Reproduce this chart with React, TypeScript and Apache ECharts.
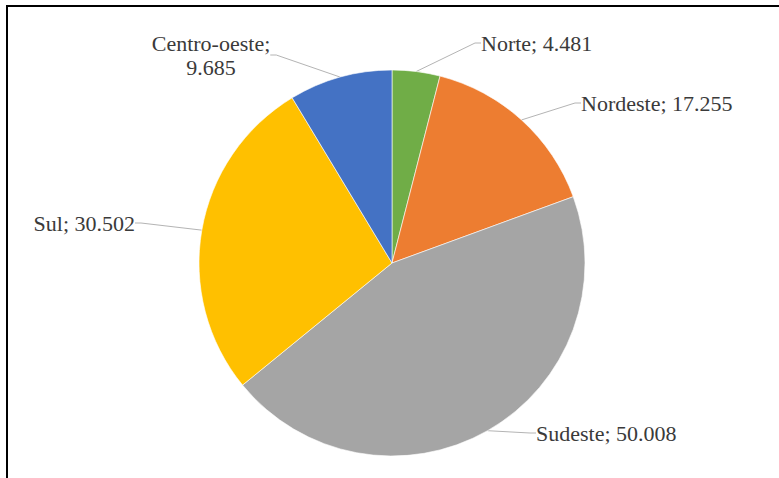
import React, { useEffect, useRef } from "react";
import * as echarts from "echarts";

const regions = ["Norte", "Nordeste", "Sudeste", "Sul", "Centro-oeste"];
const values = [4481, 17255, 50008, 30502, 9685];
const colors = ["#70AD47", "#ED7D31", "#A5A5A5", "#FFC000", "#4472C4"];

// label placement (style only)
const labelPos: { x: number; y: number; align: string }[] = [
  { x: 481, y: 43, align: "left" },
  { x: 581, y: 103, align: "left" },
  { x: 536, y: 433, align: "left" },
  { x: 135, y: 223, align: "right" },
  { x: 211, y: 55, align: "center" },
];

function fmt(v: number): string {
  return String(v).replace(/\B(?=(\d{3})+(?!\d))/g, ".");
}

export default function App() {
  const ref = useRef<HTMLDivElement>(null);
  useEffect(() => {
    if (!ref.current) return;
    const chart = echarts.init(ref.current, undefined, { renderer: "svg" });
    chart.setOption({
      animation: false,
      backgroundColor: "#ffffff",
      graphic: [
        {
          type: "line",
          shape: { x1: 6, y1: 6, x2: 779, y2: 6 },
          style: { stroke: "#000", lineWidth: 2 },
          silent: true,
        },
        {
          type: "line",
          shape: { x1: 7, y1: 5, x2: 7, y2: 478 },
          style: { stroke: "#000", lineWidth: 2 },
          silent: true,
        },
      ],
      series: [
        {
          type: "pie",
          center: [392, 263],
          radius: [0, 193],
          startAngle: 90,
          clockwise: true,
          avoidLabelOverlap: false,
          data: regions.map((n, i) => ({
            name: n,
            value: values[i],
            itemStyle: { color: colors[i] },
          })),
          itemStyle: { borderColor: "#ffffff", borderWidth: 0.6 },
          label: {
            show: true,
            position: "outside",
            fontFamily: "'Liberation Serif', 'Times New Roman', serif",
            fontSize: 22,
            lineHeight: 24,
            color: "#3a3a3a",
            formatter: (p: any) =>
              p.name + ";" + (p.name.length > 10 ? "\n" : " ") + fmt(p.value),
          },
          labelLine: {
            show: true,
            length: 15,
            length2: 6,
            smooth: false,
            lineStyle: { color: "#B4B4B4", width: 1 },
          },
          labelLayout: (params: any) => {
            const p = labelPos[params.dataIndex];
            return {
              x: p.x,
              y: p.y,
              align: p.align,
              verticalAlign: "middle",
            };
          },
        },
      ],
    });
    return () => chart.dispose();
  }, []);
  return (
    <div
      ref={ref}
      style={{ position: "fixed", left: 0, top: 0, width: 779, height: 478 }}
    />
  );
}
